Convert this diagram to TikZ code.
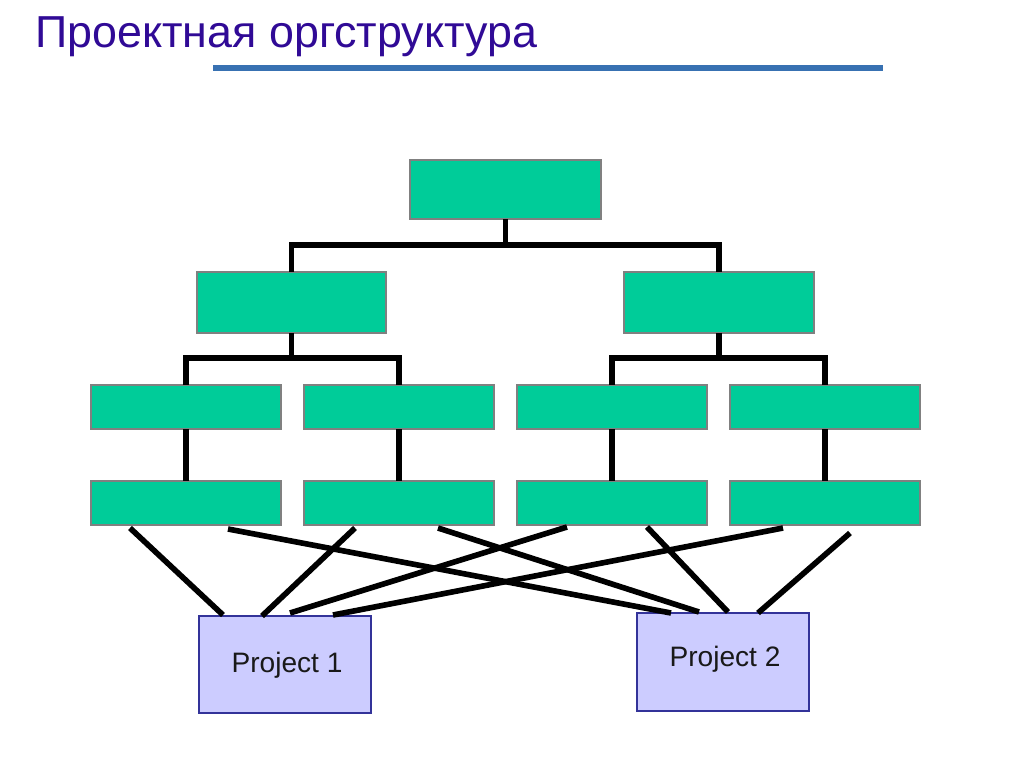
\documentclass[tikz,border=0pt]{standalone}
\usepackage{fontspec}
\setmainfont{Liberation Sans}
\usetikzlibrary{calc}
\definecolor{titlec}{RGB}{48,10,150}
\definecolor{rulec}{RGB}{56,113,178}
\definecolor{greenc}{RGB}{0,204,153}
\definecolor{greenb}{RGB}{128,128,128}
\definecolor{projf}{RGB}{204,204,255}
\definecolor{projb}{RGB}{51,51,153}
\tikzset{
  orgbox/.style={draw=greenb, fill=greenc, line width=1.2pt, inner sep=0pt, outer sep=0pt, anchor=north west},
  projbox/.style={draw=projb, fill=projf, line width=1.3pt, inner sep=0pt, outer sep=0pt, anchor=north west},
  projtext/.style={font=\fontsize{16}{19}\selectfont, text=black!90},
  orgline/.style={line width=3pt, black},
  link/.style={line width=3.2pt, black},
}
\begin{document}
\begin{tikzpicture}[x=0.02cm,y=-0.02cm]
\useasboundingbox[fill=white] (0,0) rectangle (1024,768);
% title
\node[anchor=base west, inner sep=0pt, text=titlec, font=\fontsize{25.5}{30}\selectfont] (title) at (35,47) {Проектная оргструктура};
\draw[rulec, line width=3.4pt] (213,68) -- (883,68);
% level 1
\node[orgbox, minimum width=3.82cm, minimum height=1.18cm] (top) at (410,160) {};
% level 2
\node[orgbox, minimum width=3.78cm, minimum height=1.22cm] (l2a) at (197,272) {};
\node[orgbox, minimum width=3.8cm, minimum height=1.22cm] (l2b) at (624,272) {};
% level 3
\node[orgbox, minimum width=3.8cm, minimum height=0.88cm] (l3a) at (91,385) {};
\node[orgbox, minimum width=3.8cm, minimum height=0.88cm] (l3b) at (304,385) {};
\node[orgbox, minimum width=3.8cm, minimum height=0.88cm] (l3c) at (517,385) {};
\node[orgbox, minimum width=3.8cm, minimum height=0.88cm] (l3d) at (730,385) {};
% level 4
\node[orgbox, minimum width=3.8cm, minimum height=0.88cm] (l4a) at (91,481) {};
\node[orgbox, minimum width=3.8cm, minimum height=0.88cm] (l4b) at (304,481) {};
\node[orgbox, minimum width=3.8cm, minimum height=0.88cm] (l4c) at (517,481) {};
\node[orgbox, minimum width=3.8cm, minimum height=0.88cm] (l4d) at (730,481) {};
% projects
\node[projbox, minimum width=3.44cm, minimum height=1.94cm] (p1) at (199,616) {};
\node[projtext] (p1t) at (287,665) {Project 1};
\node[projbox, minimum width=3.44cm, minimum height=1.96cm] (p2) at (637,613) {};
\node[projtext] (p2t) at (725,659) {Project 2};
% tree connectors
\draw[orgline] (top.south) -- ++(0,26);
\draw[orgline] (l2a.north) |- ($(top.south)+(0,26)$) -| (l2b.north);
\draw[orgline] (l2a.south) -- ++(0,25);
\draw[orgline] (l3a.north) |- ($(l2a.south)+(0,25)$) -| (l3b.north);
\draw[orgline] (l2b.south) -- ++(0,25);
\draw[orgline] (l3c.north) |- ($(l2b.south)+(0,25)$) -| (l3d.north);
\draw[orgline] (l3a.south) -- (l4a.north);
\draw[orgline] (l3b.south) -- (l4b.north);
\draw[orgline] (l3c.south) -- (l4c.north);
\draw[orgline] (l3d.south) -- (l4d.north);
% links to projects
\draw[link] ($(l4a.south west)+(39,3)$) -- ($(p1.north west)+(24,-1)$);
\draw[link] ($(l4a.south west)+(137,4)$) -- ($(p2.north west)+(34,0)$);
\draw[link] ($(l4b.south west)+(51,3)$) -- ($(p1.north west)+(63,0)$);
\draw[link] ($(l4b.south west)+(134,3)$) -- ($(p2.north west)+(62,-1)$);
\draw[link] ($(l4c.south west)+(50,2)$) -- ($(p1.north west)+(91,-3)$);
\draw[link] ($(l4c.south west)+(130,2)$) -- ($(p2.north west)+(91,-1)$);
\draw[link] ($(l4d.south west)+(53,3)$) -- ($(p1.north west)+(134,-1)$);
\draw[link] ($(l4d.south west)+(120,8)$) -- ($(p2.north west)+(121,0)$);
\end{tikzpicture}
\end{document}
